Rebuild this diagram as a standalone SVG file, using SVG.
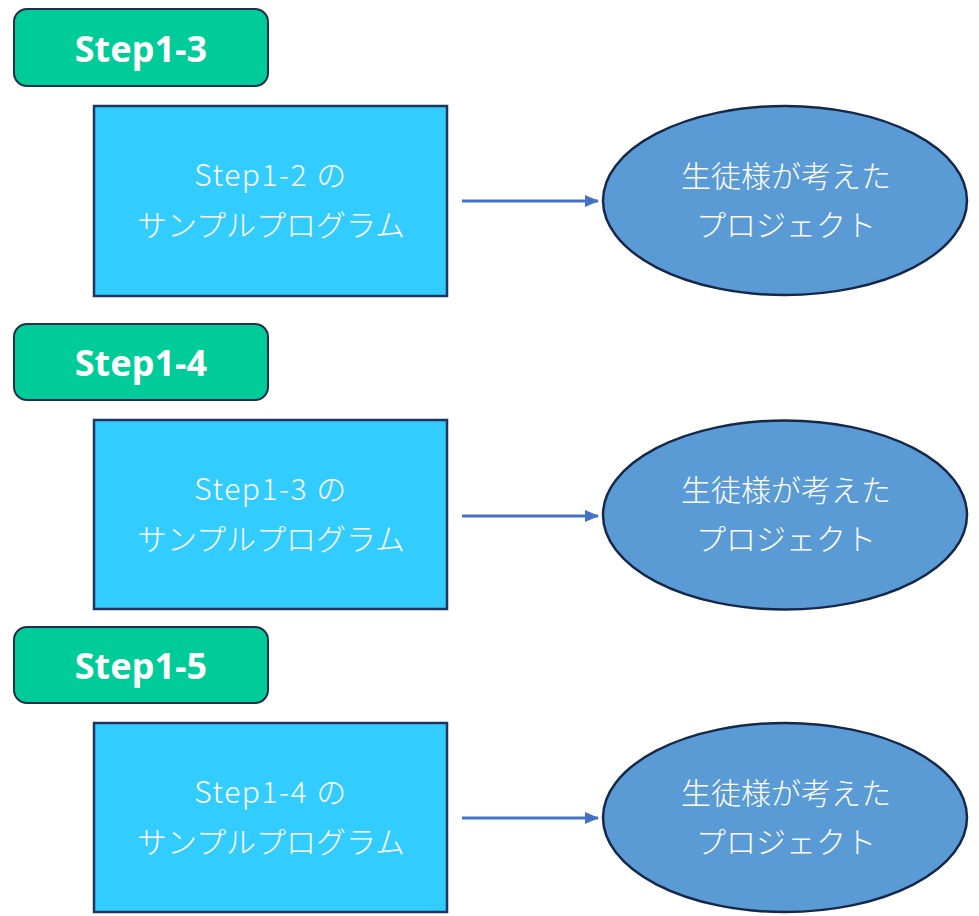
<svg xmlns="http://www.w3.org/2000/svg" width="979" height="916" viewBox="0 0 979 916">
<defs>
<style>
.step rect{fill:#00CC99;stroke:#1F2D4F;stroke-width:2}
.step text{font-family:"Noto Sans","Open Sans",sans-serif;font-weight:bold;font-size:36px;fill:#FFFFFF;text-anchor:middle}
.src rect{fill:#33CCFF;stroke:#1F3560;stroke-width:2.5}
.proj ellipse{fill:#5B9BD5;stroke:#15284A;stroke-width:2.5}
.lbl{font-family:"Noto Sans CJK JP","Noto Sans",sans-serif;font-weight:300;font-size:30px;fill:#FFFFFF;text-anchor:middle}
.lat{letter-spacing:1.5px}
.conn line{stroke:#4472C4;stroke-width:3}
</style>
<marker id="ah" markerWidth="14" markerHeight="12" refX="13" refY="6" orient="auto" markerUnits="userSpaceOnUse">
<path d="M0,0 L14,6 L0,12 Z" fill="#4472C4"/>
</marker>
</defs>
<rect width="979" height="916" fill="#FFFFFF"/>

<g id="step1-3" class="step">
<rect x="14" y="9" width="254" height="77" rx="13"/>
<text x="141" y="62">Step1-3</text>
</g>
<g id="src1" class="src">
<rect x="94" y="106" width="353" height="190"/>
<text class="lbl lat" x="271" y="186">Step1-2 の</text>
<text class="lbl" x="271" y="236">サンプルプログラム</text>
</g>
<g id="proj1" class="proj">
<ellipse cx="785" cy="200.5" rx="182" ry="94.5"/>
<text class="lbl" x="786" y="187">生徒様が考えた</text>
<text class="lbl" x="786" y="236">プロジェクト</text>
</g>

<g id="step1-4" class="step">
<rect x="14" y="324" width="254" height="76" rx="13"/>
<text x="141" y="376">Step1-4</text>
</g>
<g id="src2" class="src">
<rect x="94" y="420" width="353" height="189"/>
<text class="lbl lat" x="271" y="500">Step1-3 の</text>
<text class="lbl" x="271" y="550">サンプルプログラム</text>
</g>
<g id="proj2" class="proj">
<ellipse cx="785" cy="515" rx="182" ry="94.5"/>
<text class="lbl" x="786" y="501">生徒様が考えた</text>
<text class="lbl" x="786" y="550">プロジェクト</text>
</g>

<g id="step1-5" class="step">
<rect x="14" y="627" width="254" height="76" rx="13"/>
<text x="141" y="679">Step1-5</text>
</g>
<g id="src3" class="src">
<rect x="94" y="723" width="353" height="189"/>
<text class="lbl lat" x="271" y="803">Step1-4 の</text>
<text class="lbl" x="271" y="853">サンプルプログラム</text>
</g>
<g id="proj3" class="proj">
<ellipse cx="785" cy="817.5" rx="182" ry="94.5"/>
<text class="lbl" x="786" y="804">生徒様が考えた</text>
<text class="lbl" x="786" y="853">プロジェクト</text>
</g>

<g id="connectors" class="conn">
<line x1="462" y1="201" x2="598" y2="201" marker-end="url(#ah)"/>
<line x1="462" y1="516" x2="598" y2="516" marker-end="url(#ah)"/>
<line x1="462" y1="818" x2="598" y2="818" marker-end="url(#ah)"/>
</g>
</svg>
